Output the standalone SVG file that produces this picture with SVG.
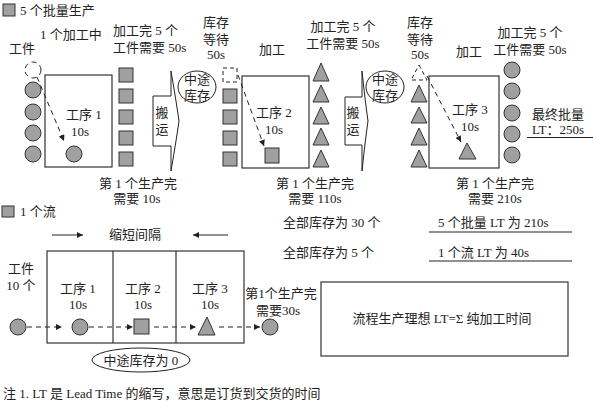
<svg xmlns="http://www.w3.org/2000/svg" width="593" height="408" viewBox="0 0 593 408">
<style>
text{font-family:"Liberation Serif","Noto Sans CJK SC",serif;font-size:13px;fill:#222;}
.c{text-anchor:middle;}
.g{fill:#a0a0a0;stroke:#333;stroke-width:1;}
.box{fill:none;stroke:#333;stroke-width:1.2;}
.dash{fill:none;stroke:#222;stroke-width:1;stroke-dasharray:5,4;}
.ln{fill:none;stroke:#222;stroke-width:1;}
.arr{fill:#fff;stroke:#222;stroke-width:1;}
</style>
<defs>
<marker id="ah" viewBox="0 0 10 10" refX="10" refY="5" markerWidth="8" markerHeight="6" markerUnits="userSpaceOnUse" orient="auto">
<path d="M0,0 L10,5 L0,10 z" fill="#222"/>
</marker>
</defs>
<rect width="593" height="408" fill="#fff"/>

<g id="legend1">
<rect class="g" x="3" y="4" width="12" height="12"/>
<text x="20" y="15">5 个批量生产</text>
</g>

<g id="labels-top">
<text x="40" y="39">1 个加工中</text>
<text x="9" y="53">工件</text>
<text x="113" y="35">加工完 5 个</text>
<text x="113" y="52">工件需要 50s</text>
<text class="c" x="216" y="27">库存</text>
<text class="c" x="216" y="44">等待</text>
<text class="c" x="216" y="59">50s</text>
<text class="c" x="272" y="54">加工</text>
<text class="c" x="343" y="31">加工完 5 个</text>
<text class="c" x="343" y="48">工件需要 50s</text>
<text class="c" x="420" y="27">库存</text>
<text class="c" x="420" y="44">等待</text>
<text class="c" x="420" y="59">50s</text>
<text class="c" x="469" y="56">加工</text>
<text class="c" x="530" y="37">加工完 5 个</text>
<text class="c" x="530" y="54">工件需要 50s</text>
</g>

<g id="process1">
<circle cx="33" cy="70" r="8" class="dash"/>
<circle class="g" cx="33" cy="90" r="8"/>
<circle class="g" cx="33" cy="112" r="8"/>
<circle class="g" cx="33" cy="133" r="8"/>
<circle class="g" cx="33" cy="154" r="8"/>
<rect class="box" x="45" y="75" width="67" height="92"/>
<text class="c" x="84" y="119">工序 1</text>
<text class="c" x="80" y="136">10s</text>
<circle class="g" cx="74" cy="154" r="8"/>
<rect class="g" x="119" y="68" width="14" height="14"/>
<rect class="g" x="119" y="89" width="14" height="14"/>
<rect class="g" x="119" y="110" width="14" height="14"/>
<rect class="g" x="119" y="131" width="14" height="14"/>
<rect class="g" x="119" y="152" width="14" height="14"/>
<text class="c" x="138" y="188">第 1 个生产完</text>
<text class="c" x="137" y="203">需要 10s</text>
</g>

<g id="transport1">
<path class="arr" d="M153,96 L171,96 L171,71 Q176,100 179,121 Q176,142 171,171 L171,146 L153,146 Z"/>
<text class="c" x="162" y="117">搬</text>
<text class="c" x="162" y="134">运</text>
</g>

<g id="wip1">
<ellipse class="ln" cx="197" cy="87" rx="19" ry="16"/>
<text class="c" x="197" y="84">中途</text>
<text class="c" x="197" y="100">库存</text>
</g>

<g id="process2">
<rect x="223" y="68" width="14" height="14" class="dash" style="stroke-dasharray:4,3"/>
<rect class="g" x="223" y="89" width="14" height="14"/>
<rect class="g" x="223" y="110" width="14" height="14"/>
<rect class="g" x="223" y="131" width="14" height="14"/>
<rect class="g" x="223" y="152" width="14" height="14"/>
<rect class="box" x="242" y="76" width="67" height="92"/>
<text class="c" x="274" y="117">工序 2</text>
<text class="c" x="274" y="134">10s</text>
<rect class="g" x="265" y="148" width="14" height="15"/>
<path class="g" d="M321,63 L329,81 L313,81 Z"/>
<path class="g" d="M321,85 L329,102 L313,102 Z"/>
<path class="g" d="M321,107 L329,124 L313,124 Z"/>
<path class="g" d="M321,128 L329,145 L313,145 Z"/>
<path class="g" d="M321,150 L329,167 L313,167 Z"/>
<text class="c" x="315" y="188">第 1 个生产完</text>
<text class="c" x="315" y="203">需要 110s</text>
</g>

<g id="transport2">
<path class="arr" d="M345,97 L362,97 L362,71 Q365,100 368,121 Q365,142 362,171 L362,145 L345,145 Z"/>
<text class="c" x="353" y="117">搬</text>
<text class="c" x="353" y="134">运</text>
</g>

<g id="wip2">
<ellipse class="ln" cx="385" cy="87" rx="19" ry="16"/>
<text class="c" x="385" y="84">中途</text>
<text class="c" x="385" y="100">库存</text>
</g>

<g id="process3">
<path d="M419,65 L427,80 L411,80 Z" class="dash" style="stroke-dasharray:4,3"/>
<path class="g" d="M419,85 L427,102 L411,102 Z"/>
<path class="g" d="M419,107 L427,123 L411,123 Z"/>
<path class="g" d="M419,128 L427,145 L411,145 Z"/>
<path class="g" d="M419,150 L427,167 L411,167 Z"/>
<rect class="box" x="429" y="76" width="70" height="92"/>
<text class="c" x="470" y="114">工序 3</text>
<text class="c" x="470" y="131">10s</text>
<path class="g" d="M467,143 L476,159 L459,159 Z"/>
<circle class="g" cx="512" cy="70" r="8"/>
<circle class="g" cx="512" cy="91" r="8"/>
<circle class="g" cx="512" cy="113" r="8"/>
<circle class="g" cx="512" cy="134" r="8"/>
<circle class="g" cx="512" cy="155" r="8"/>
<text class="c" x="558" y="119">最终批量</text>
<text class="c" x="558" y="134">LT：250s</text>
<line class="ln" x1="527" y1="137.5" x2="593" y2="137.5"/>
<text class="c" x="495" y="188">第 1 个生产完</text>
<text class="c" x="495" y="203">需要 210s</text>
</g>

<g id="connectors">
<path class="dash" d="M37,77 L64,141" marker-end="url(#ah)"/>
<path class="dash" d="M238,75 L264,146" marker-end="url(#ah)"/>
<path class="dash" d="M427,76 L461,142" marker-end="url(#ah)"/>
<path class="ln" d="M52,235 L83,235" marker-end="url(#ah)"/>
<path class="ln" d="M228,235 L193,235" marker-end="url(#ah)"/>
<path class="dash" d="M27,327 L62,327" marker-end="url(#ah)"/>
<path class="dash" d="M89,327 L133,327" marker-end="url(#ah)"/>
<path class="dash" d="M154,327 L196,327" marker-end="url(#ah)"/>
<path class="dash" d="M219,327 L260,327" marker-end="url(#ah)"/>
</g>

<g id="legend2">
<rect class="g" x="2" y="206" width="12" height="11"/>
<text x="20" y="216">1 个流</text>
</g>

<g id="summary">
<text x="283" y="227">全部库存为 30 个</text>
<text x="438" y="227">5 个批量 LT 为 210s</text>
<line class="ln" x1="429" y1="232" x2="572" y2="232"/>
<text x="283" y="257">全部库存为 5 个</text>
<text x="438" y="257">1 个流 LT 为 40s</text>
<line class="ln" x1="429" y1="261" x2="572" y2="261"/>
</g>

<g id="ideal">
<rect class="box" x="321" y="282" width="247" height="74"/>
<text class="c" x="442" y="323">流程生产理想 LT=Σ 纯加工时间</text>
</g>

<g id="flow">
<text class="c" x="135" y="239">缩短间隔</text>
<rect class="box" x="47" y="251" width="197" height="92"/>
<line class="box" x1="113" y1="251" x2="113" y2="343"/>
<line class="box" x1="176" y1="251" x2="176" y2="343"/>
<text class="c" x="21" y="273">工件</text>
<text class="c" x="21" y="290">10 个</text>
<text class="c" x="78" y="293">工序 1</text>
<text class="c" x="78" y="309">10s</text>
<text class="c" x="143" y="293">工序 2</text>
<text class="c" x="143" y="309">10s</text>
<text class="c" x="210" y="293">工序 3</text>
<text class="c" x="210" y="309">10s</text>
<circle class="g" cx="18" cy="327" r="8"/>
<circle class="g" cx="80" cy="327" r="8"/>
<rect class="g" x="134" y="319" width="15" height="15"/>
<path class="g" d="M207,317 L215,335 L198,335 Z"/>
<circle class="g" cx="270" cy="327" r="8"/>
<text class="c" x="281" y="298">第1个生产完</text>
<text class="c" x="278" y="315">需要30s</text>
</g>

<g id="wip0">
<ellipse class="ln" cx="141" cy="360" rx="49" ry="12"/>
<text class="c" x="141" y="365">中途库存为 0</text>
</g>

<text x="3" y="398">注 1. LT 是 Lead Time 的缩写，意思是订货到交货的时间</text>
</svg>
